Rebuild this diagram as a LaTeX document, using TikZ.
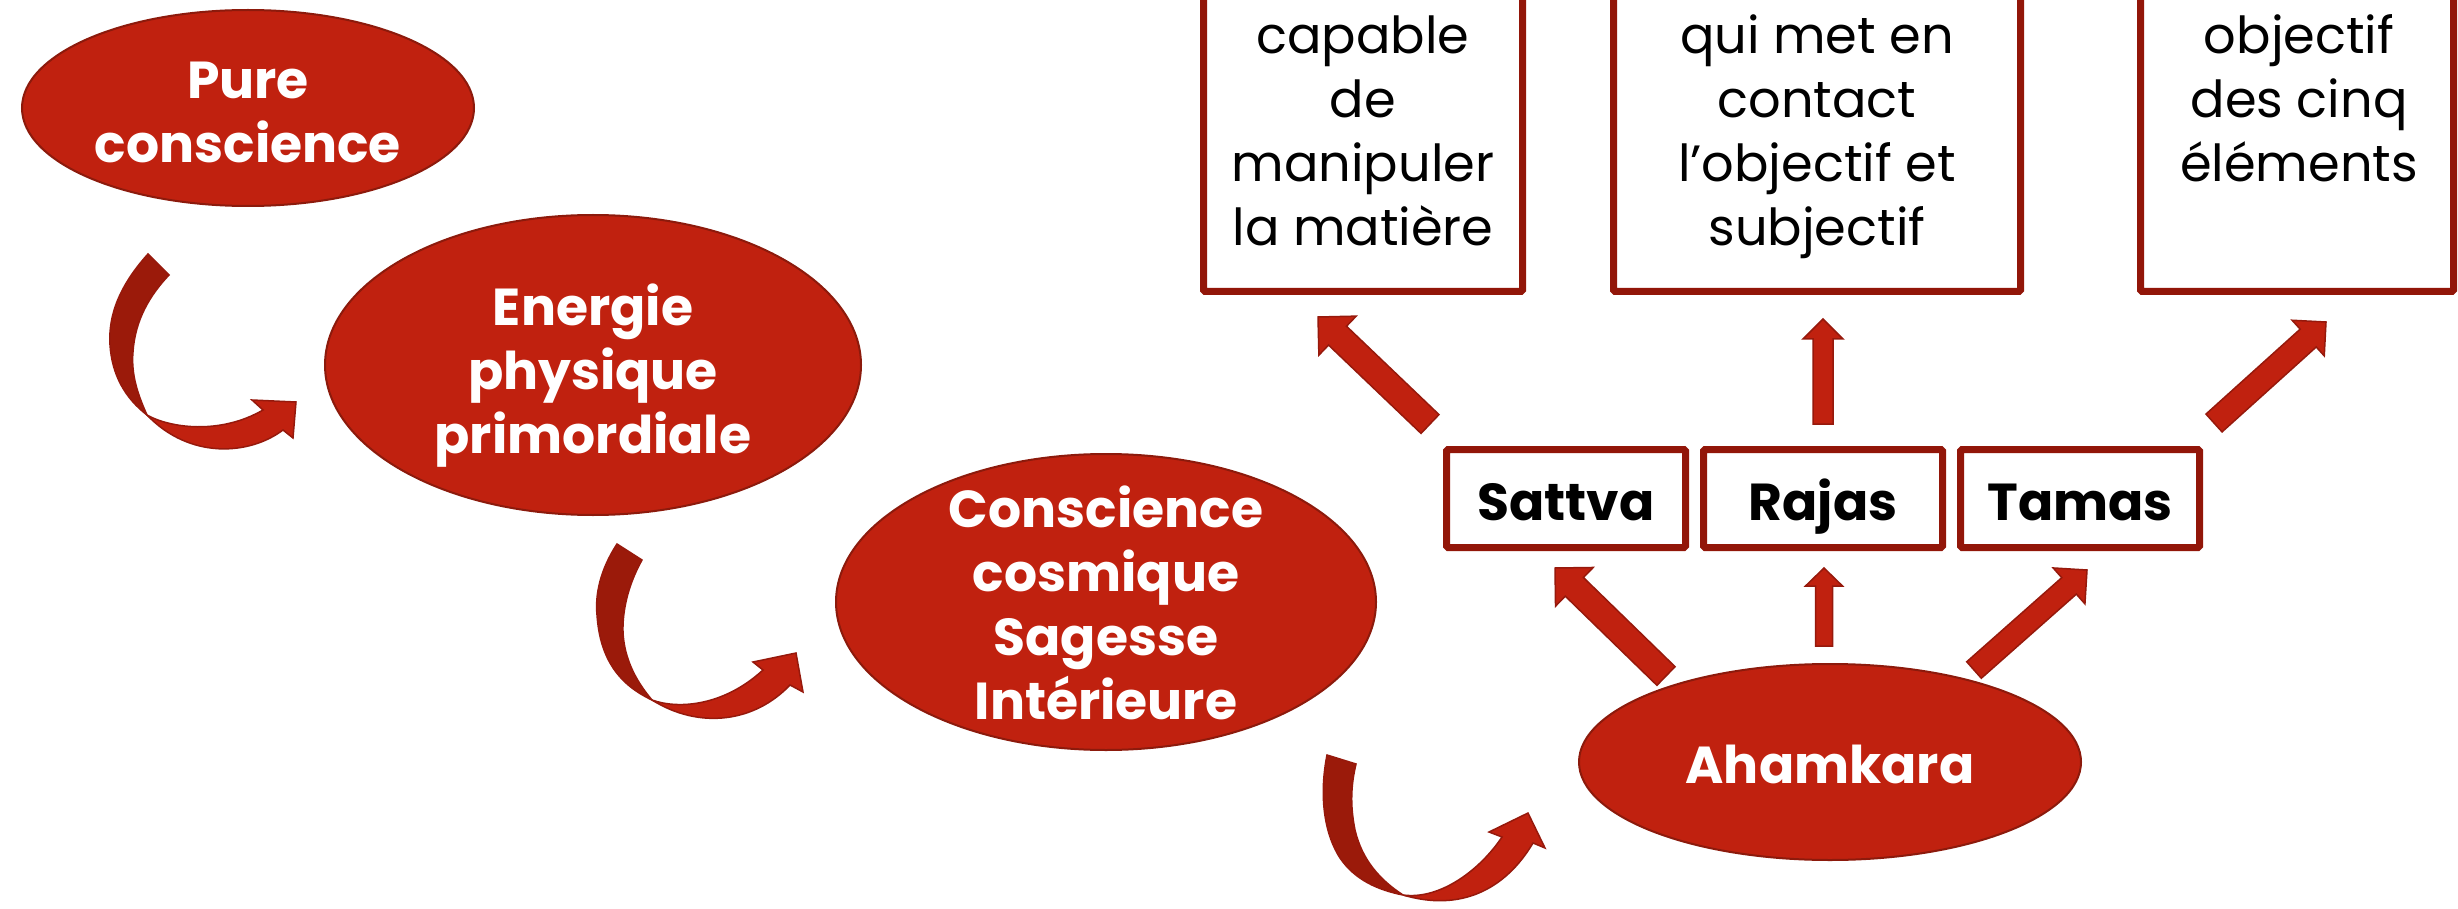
\documentclass[tikz,border=0pt]{standalone}
\usepackage{fontspec}
\setmainfont{Poppins}
\usetikzlibrary{calc,shapes.geometric}
\definecolor{redfill}{RGB}{192,33,15}
\definecolor{ellline}{RGB}{140,26,12}
\definecolor{arrline}{RGB}{150,25,12}
\definecolor{darkarc}{RGB}{155,26,10}
\definecolor{boxline}{RGB}{146,22,9}
\tikzset{
  ell/.style={ellipse, fill=redfill, draw=ellline, line width=2pt, inner sep=0pt},
  elltxt/.style={text=white, font=\bfseries\fontsize{52}{64}\selectfont, align=center, inner sep=0pt, anchor=north},
  boxtxt/.style={text=black, font=\fontsize{51}{64}\selectfont, align=center, inner sep=0pt, anchor=north},
  tbox/.style={rectangle, draw=boxline, line width=7pt, fill=white, inner sep=0pt, rounded corners=1.5pt},
  gbox/.style={rectangle, draw=boxline, line width=7pt, fill=white, inner sep=0pt, rounded corners=1.5pt,
    minimum width=239pt, minimum height=98pt, text height=43pt, text depth=0pt,
    font=\bfseries\fontsize{52}{64}\selectfont, text=black},
  barrow/.style={fill=redfill, draw=arrline, line width=1.5pt, line join=miter},
  darkband/.style={fill=darkarc, draw=arrline, line width=1.5pt},
  brightband/.style={fill=redfill, draw=arrline, line width=1.5pt},
}
% tail, tip, half shaft, half head, head length
\newcommand\blockarrow[5]{%
  \path ($(#2)!#5!(#1)$) coordinate (bh);
  \filldraw[barrow] ($(#1)!#3!90:(#2)$) -- ($(bh)!#3!90:(#2)$) -- ($(bh)!#4!90:(#2)$) -- (#2)
    -- ($(bh)!#4!-90:(#2)$) -- ($(bh)!#3!-90:(#2)$) -- ($(#1)!#3!-90:(#2)$) -- cycle;
}
\begin{document}
\begin{tikzpicture}[x=1pt,y=-1pt]
\useasboundingbox (0,0) rectangle (2458,909);
\clip (0,0) rectangle (2458,909);

% ellipses
\node[ell, minimum width=452pt, minimum height=196pt] (pure) at (248,108) {};
\node[elltxt] (pureT) at (248,53) {\rule{0pt}{45pt}Pure\\conscience};

\node[ell, minimum width=536pt, minimum height=300pt] (energie) at (593,365) {};
\node[elltxt] (energieT) at (593,280) {\rule{0pt}{45pt}Energie\\physique\\primordiale};

\node[ell, minimum width=540pt, minimum height=296pt] (cosmique) at (1106,602) {};
\node[elltxt] (cosmiqueT) at (1106,482) {\rule{0pt}{45pt}Conscience\\cosmique\\Sagesse\\Intérieure};

\node[ell, minimum width=502pt, minimum height=196pt] (ahamkara) at (1830,762) {};
\node[elltxt] (ahamkaraT) at (1830,738) {\rule{0pt}{45pt}Ahamkara};

% gunas
\node[gbox] (sattva) at (1566,498.5) {Sattva};
\node[gbox] (rajas) at (1823,498.5) {Rajas};
\node[gbox] (tamas) at (2080,498.5) {Tamas};

% top boxes
\node[tbox, minimum width=319pt, minimum height=351.5pt] (box1) at (1363,115.75) {};
\node[tbox, minimum width=407pt, minimum height=351.5pt] (box2) at (1817,115.75) {};
\node[tbox, minimum width=313pt, minimum height=351.5pt] (box3) at (2297,115.75) {};
\node[boxtxt] (box1T) at (1363,8) {\rule{0pt}{45pt}capable\\de\\manipuler\\la matière};
\node[boxtxt] (box2T) at (1817,8) {\rule{0pt}{45pt}qui met en\\contact\\l’objectif et\\subjectif};
\node[boxtxt] (box3T) at (2299,8) {\rule{0pt}{45pt}objectif\\des cinq\\éléments};

% block arrows
\coordinate (s1) at (1666,676); \coordinate (s2) at (1555,568);
\coordinate (r1) at (1824,646); \coordinate (r2) at (1824,568);
\coordinate (t1) at (1974,670); \coordinate (t2) at (2087,570);
\coordinate (u1) at (1430,424); \coordinate (u2) at (1318,317);
\coordinate (v1) at (1823,424); \coordinate (v2) at (1823,319);
\coordinate (w1) at (2214,423); \coordinate (w2) at (2326,322);
\blockarrow{s1}{s2}{13pt}{27pt}{27pt}
\blockarrow{r1}{r2}{8.5pt}{18.5pt}{18pt}
\blockarrow{t1}{t2}{11pt}{24pt}{24pt}
\blockarrow{u1}{u2}{13pt}{27pt}{27pt}
\blockarrow{v1}{v2}{10pt}{20pt}{20pt}
\blockarrow{w1}{w2}{12pt}{24pt}{24pt}

% curved arrows
\filldraw[darkband] (148,254) .. controls (120,285) and (108,315) .. (110,345) .. controls (112,375) and (125,398) .. (147,415) .. controls (138,395) and (131,375) .. (133,352) .. controls (135,320) and (150,295) .. (169,275) -- cycle;
\filldraw[brightband] (147,415) .. controls (170,428) and (220,435) .. (263,410) -- (252,400) -- (296,402) -- (293,438) -- (283,430) .. controls (250,455) and (190,460) .. (147,415) -- cycle;

\filldraw[darkband] (617,544) .. controls (600,570) and (595,595) .. (597,615) .. controls (600,660) and (620,685) .. (652,700) .. controls (635,680) and (622,655) .. (623,625) .. controls (624,600) and (632,578) .. (642,560) -- cycle;
\filldraw[brightband] (652,700) .. controls (680,710) and (725,705) .. (763,670) -- (753,662) -- (796,653) -- (803,692) -- (790,685) .. controls (755,722) and (700,730) .. (652,700) -- cycle;

\filldraw[darkband] (1327,755) .. controls (1320,790) and (1322,830) .. (1340,858) .. controls (1355,880) and (1378,890) .. (1403,895) .. controls (1380,880) and (1362,860) .. (1355,830) .. controls (1350,805) and (1351,785) .. (1356,764) -- cycle;
\filldraw[brightband] (1403,895) .. controls (1440,900) and (1480,870) .. (1502,837) -- (1489,832) -- (1528,813) -- (1545,848) -- (1533,843) .. controls (1505,890) and (1460,912) .. (1403,895) -- cycle;
\end{tikzpicture}
\end{document}
